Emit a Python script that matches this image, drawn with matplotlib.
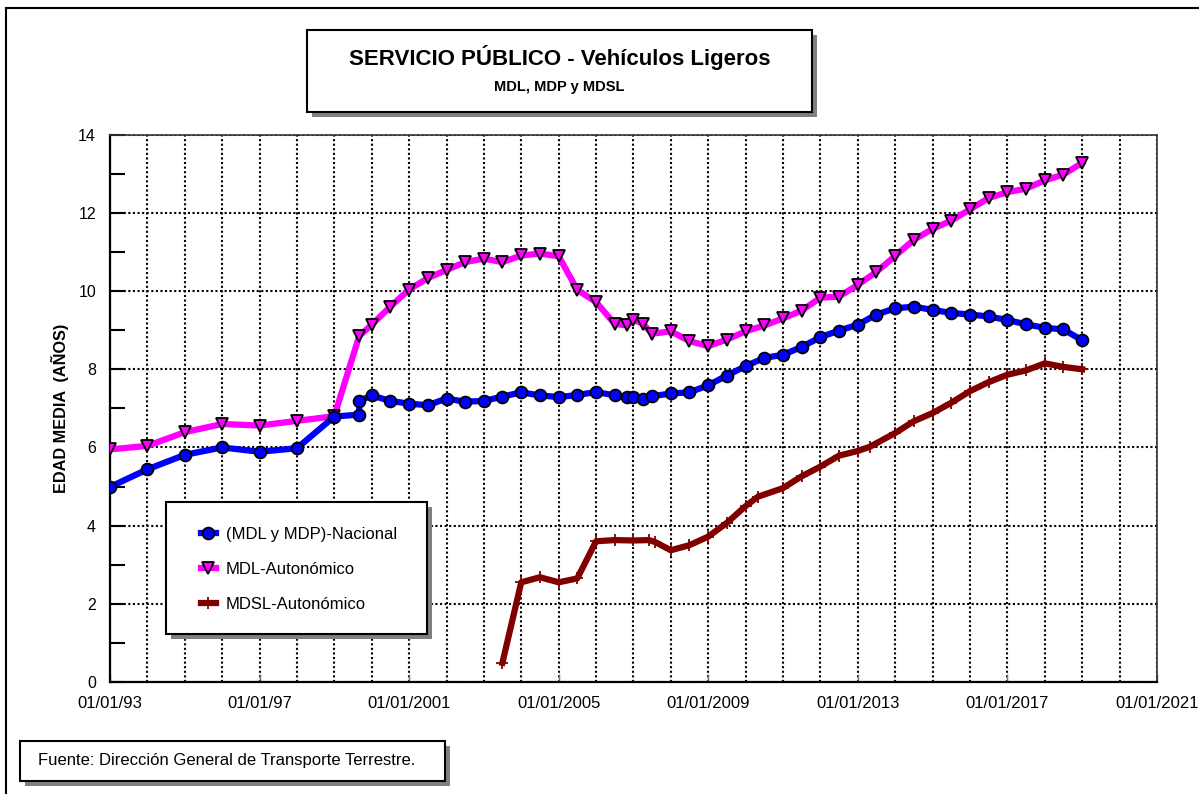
import matplotlib
matplotlib.use('Agg')
import matplotlib.pyplot as plt
import matplotlib.dates as mdates
import pandas as pd
from matplotlib.patches import Rectangle
from matplotlib.lines import Line2D
from matplotlib.ticker import MultipleLocator

plt.rcParams['font.family'] = ['Liberation Sans', 'DejaVu Sans']

# (MDL y MDP)-Nacional
fechas_nac = ["1993-01", "1994-01", "1995-01", "1996-01", "1997-01", "1998-01",
              "1999-01", "1999-09", "1999-09", "2000-01", "2000-07", "2001-01",
              "2001-07", "2002-01", "2002-07", "2003-01", "2003-07", "2004-01",
              "2004-07", "2005-01", "2005-07", "2006-01", "2006-07", "2006-11",
              "2007-01", "2007-04", "2007-07", "2008-01", "2008-07", "2009-01",
              "2009-07", "2010-01", "2010-07", "2011-01", "2011-07", "2012-01",
              "2012-07", "2013-01", "2013-07", "2014-01", "2014-07", "2015-01",
              "2015-07", "2016-01", "2016-07", "2017-01", "2017-07", "2018-01",
              "2018-07", "2019-01"]
edad_nac = [4.99, 5.44, 5.81, 6.00, 5.89, 5.98,
            6.79, 6.84, 7.19, 7.33, 7.19, 7.12,
            7.08, 7.25, 7.17, 7.19, 7.30, 7.41,
            7.33, 7.29, 7.34, 7.42, 7.33, 7.30,
            7.30, 7.25, 7.31, 7.38, 7.41, 7.59,
            7.84, 8.08, 8.29, 8.37, 8.57, 8.82,
            8.99, 9.14, 9.40, 9.56, 9.60, 9.52,
            9.44, 9.40, 9.35, 9.26, 9.15, 9.06,
            9.02, 8.74]

# MDL-Autonomico
fechas_mdl = ["1993-01", "1994-01", "1995-01", "1996-01", "1997-01", "1998-01",
              "1999-01", "1999-09", "2000-01", "2000-07", "2001-01", "2001-07",
              "2002-01", "2002-07", "2003-01", "2003-07", "2004-01", "2004-07",
              "2005-01", "2005-07", "2006-01", "2006-07", "2006-11", "2007-01",
              "2007-04", "2007-07", "2008-01", "2008-07", "2009-01", "2009-07",
              "2010-01", "2010-07", "2011-01", "2011-07", "2012-01", "2012-07",
              "2013-01", "2013-07", "2014-01", "2014-07", "2015-01", "2015-07",
              "2016-01", "2016-07", "2017-01", "2017-07", "2018-01", "2018-07",
              "2019-01"]
edad_mdl = [5.95, 6.04, 6.39, 6.60, 6.56, 6.68,
            6.80, 8.85, 9.14, 9.60, 10.04, 10.33,
            10.54, 10.74, 10.83, 10.74, 10.91, 10.96,
            10.89, 10.03, 9.72, 9.16, 9.12, 9.26,
            9.17, 8.91, 8.97, 8.72, 8.59, 8.76,
            8.97, 9.12, 9.30, 9.50, 9.83, 9.86,
            10.16, 10.49, 10.90, 11.31, 11.59, 11.80,
            12.09, 12.38, 12.53, 12.62, 12.83, 12.98,
            13.28]

# MDSL-Autonomico
fechas_mdsl = ["2003-07", "2004-01", "2004-07", "2005-01", "2005-07", "2006-01",
               "2006-07", "2007-01", "2007-06", "2007-08", "2008-01", "2008-07",
               "2009-01", "2009-07", "2010-01", "2010-05", "2011-01", "2011-07",
               "2012-01", "2012-07", "2013-01", "2013-05", "2014-01", "2014-07",
               "2015-01", "2015-07", "2016-01", "2016-07", "2017-01", "2017-07",
               "2018-01", "2018-07", "2019-01"]
edad_mdsl = [0.49, 2.55, 2.68, 2.55, 2.65, 3.60,
             3.63, 3.62, 3.63, 3.58, 3.37, 3.50,
             3.72, 4.07, 4.50, 4.74, 4.96, 5.26,
             5.51, 5.79, 5.91, 6.02, 6.37, 6.67,
             6.88, 7.14, 7.44, 7.67, 7.86, 7.97,
             8.15, 8.06, 8.00]

xtick_fechas = ["1993-01-01", "1997-01-01", "2001-01-01", "2005-01-01",
                "2009-01-01", "2013-01-01", "2017-01-01", "2021-01-01"]
xtick_labels = ["01/01/93", "01/01/97", "01/01/2001", "01/01/2005",
                "01/01/2009", "01/01/2013", "01/01/2017", "01/01/2021"]

W, H = 1199, 794


def fx(px):
    return px / W


def fy(py):
    return 1 - py / H


def caja(x0, y0, x1, y1, d=5):
    # rectangulo blanco con sombra gris (coordenadas en pixeles)
    fig.add_artist(Rectangle((fx(x0 + d), fy(y1 + d)), (x1 - x0) / W, (y1 - y0) / H,
                             transform=fig.transFigure, facecolor='0.5',
                             edgecolor='none', zorder=1))
    fig.add_artist(Rectangle((fx(x0), fy(y1)), (x1 - x0) / W, (y1 - y0) / H,
                             transform=fig.transFigure, facecolor='white',
                             edgecolor='black', lw=1.5, zorder=1))


fig = plt.figure(figsize=(W / 100, H / 100), dpi=100)
ax = fig.add_axes([fx(110), fy(682), (1157 - 110) / W, (682 - 134.7) / H])

ax.plot(pd.to_datetime(fechas_mdl), edad_mdl, color='#FF00FF', lw=4.5,
        marker='v', ms=9, mfc='#FF00FF', mec='black', mew=1.3,
        label='MDL-Autonómico', zorder=3)
ax.plot(pd.to_datetime(fechas_nac), edad_nac, color='#0000FF', lw=4.5,
        marker='o', ms=8.5, mfc='#0000FF', mec='black', mew=1.3,
        label='(MDL y MDP)-Nacional', zorder=4)
ax.plot(pd.to_datetime(fechas_mdsl), edad_mdsl, color='#800000', lw=4.5,
        marker='+', ms=9, mec='#800000', mew=1.3,
        label='MDSL-Autonómico', zorder=5)

ax.set_xlim(pd.Timestamp("1993-01-01"), pd.Timestamp("2021-01-01"))
ax.set_ylim(0, 14)

ax.set_xticks(pd.to_datetime(xtick_fechas))
ax.set_xticklabels(xtick_labels)
ax.xaxis.set_minor_locator(mdates.YearLocator(1, month=1, day=1))
ax.yaxis.set_major_locator(MultipleLocator(2))
ax.yaxis.set_minor_locator(MultipleLocator(1))

ax.tick_params(axis='x', which='major', direction='in', length=6, width=1,
               color='0.45', labelsize=12, pad=10)
ax.tick_params(axis='x', which='minor', length=0)
ax.tick_params(axis='y', which='both', direction='in', length=11, width=1.5,
               color='black', labelsize=11.5, pad=10)

ax.grid(True, axis='x', which='both', color='black', lw=1.5,
        linestyle=(0, (1, 1.2)), zorder=1)
ax.grid(True, axis='y', which='major', color='black', lw=1.5,
        linestyle=(0, (1, 1.2)), zorder=1)
ax.set_axisbelow(True)

for s in ['left', 'bottom']:
    ax.spines[s].set_linewidth(1.6)
for s in ['top', 'right']:
    ax.spines[s].set_linewidth(1.2)
    ax.spines[s].set_color('0.2')

ax.set_ylabel('EDAD MEDIA  (AÑOS)', fontsize=11.7, fontweight='bold', labelpad=7)

# leyenda (marco dibujado aparte)
caja(166, 502, 427, 634)
h, l = ax.get_legend_handles_labels()
orden = [1, 0, 2]
leg = fig.legend([h[i] for i in orden], [l[i] for i in orden],
                 loc='upper left', bbox_to_anchor=(fx(174), fy(500)),
                 bbox_transform=fig.transFigure, fontsize=12, frameon=False,
                 borderpad=1.6, labelspacing=1.2, handlelength=0.9,
                 handletextpad=0.6, borderaxespad=0)
leg.set_zorder(10)

# caja del titulo
caja(307, 30, 812, 112)
fig.text(fx(559.5), fy(58), 'SERVICIO PÚBLICO - Vehículos Ligeros',
         ha='center', va='center', fontsize=16, fontweight='bold', zorder=5)
fig.text(fx(559.5), fy(86.5), 'MDL, MDP y MDSL', ha='center', va='center',
         fontsize=10.5, fontweight='bold', zorder=5)

# caja de la fuente
caja(20, 741, 445, 781)
fig.text(fx(38), fy(761), 'Fuente: Dirección General de Transporte Terrestre.',
         ha='left', va='center', fontsize=12, zorder=5)

# marco exterior
fig.add_artist(Line2D([fx(6), fx(6)], [0, fy(8)], transform=fig.transFigure,
                      color='black', lw=1.5))
fig.add_artist(Line2D([fx(6), 1], [fy(8), fy(8)], transform=fig.transFigure,
                      color='black', lw=1.5))

fig.savefig('out.png', dpi=100)
